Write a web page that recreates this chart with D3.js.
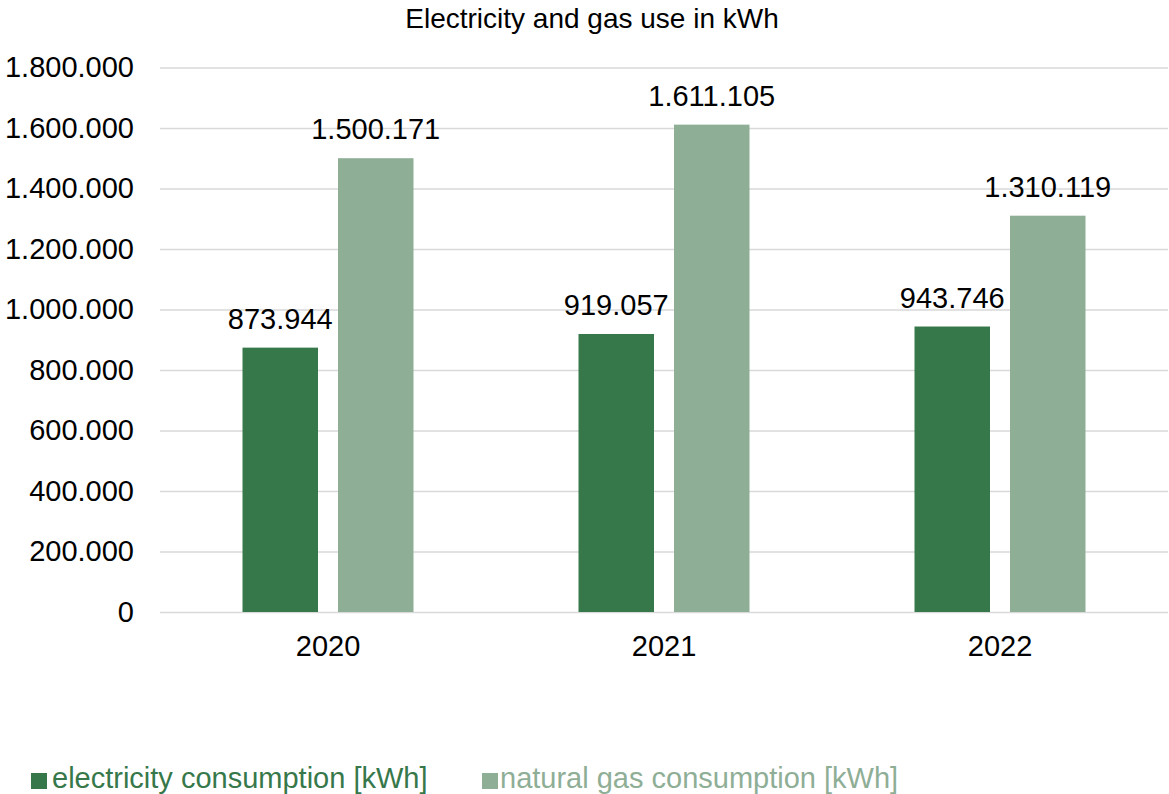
<!DOCTYPE html>
<html>
<head>
<meta charset="utf-8">
<script src="https://cdn.jsdelivr.net/npm/d3@7"></script>
<style>
  html, body { margin: 0; padding: 0; background: #fff; }
  svg { display: block; font-family: "Liberation Sans", Arial, sans-serif; }
</style>
</head>
<body>
<svg id="chart" width="1169" height="794"></svg>
<script>
// Annual consumption per energy carrier
const years = ["2020", "2021", "2022"];
const seriesNames = ["electricity consumption [kWh]", "natural gas consumption [kWh]"];
const electricity = [873944, 919057, 943746];
const naturalGas = [1500171, 1611105, 1310119];
const seriesColors = ["#37784b", "#8fae96"];
const yTicks = [0, 200000, 400000, 600000, 800000, 1000000, 1200000, 1400000, 1600000, 1800000];
const titleText = "Electricity and gas use in kWh";

const values = [electricity, naturalGas];
const rows = years.map((yr, i) => ({
  year: yr,
  items: seriesNames.map((s, k) => ({ series: s, k, value: values[k][i] }))
}));

// German-style thousands separator: 1.800.000
const fmt = d3.formatLocale({ decimal: ",", thousands: ".", grouping: [3], currency: ["", "€"] }).format(",d");

const svg = d3.select("#chart");
const plot = { left: 160, right: 1168, top: 67.5, bottom: 612 };
const labelSize = 29;

const x0 = d3.scaleBand().domain(years).range([plot.left, plot.right]).paddingInner(0).paddingOuter(0);
const x1 = d3.scaleBand().domain(seriesNames).range([0, x0.bandwidth()])
  .paddingInner(0.2094).paddingOuter(0.8639);
const y = d3.scaleLinear().domain([0, 1800000]).range([plot.bottom, plot.top]);

// Title
svg.append("text")
  .attr("x", 592).attr("y", 28)
  .attr("text-anchor", "middle")
  .attr("font-size", 28).attr("fill", "#000")
  .text(titleText);

// Horizontal gridlines and value axis labels
const yAxis = d3.axisLeft(y).tickValues(yTicks).tickFormat(fmt)
  .tickSize(-(plot.right - plot.left)).tickPadding(26);
const gy = svg.append("g").attr("transform", `translate(${plot.left},0)`).call(yAxis);
gy.select(".domain").remove();
gy.selectAll(".tick line").attr("stroke", "#d9d9d9").attr("stroke-width", 1.5);
gy.selectAll(".tick text").attr("font-size", labelSize).attr("fill", "#000")
  .attr("font-family", "Liberation Sans, Arial, sans-serif");

// Category axis labels
const xAxis = d3.axisBottom(x0).tickSize(0).tickPadding(0);
const gx = svg.append("g").attr("transform", `translate(0,${plot.bottom})`).call(xAxis);
gx.select(".domain").remove();
gx.selectAll(".tick text").attr("font-size", labelSize).attr("fill", "#000")
  .attr("dy", null).attr("y", 44)
  .attr("font-family", "Liberation Sans, Arial, sans-serif");

// Bars
const groups = svg.append("g").selectAll("g").data(rows).join("g")
  .attr("transform", d => `translate(${x0(d.year)},0)`);

groups.selectAll("rect").data(d => d.items).join("rect")
  .attr("x", d => x1(d.series))
  .attr("width", x1.bandwidth())
  .attr("y", d => y(d.value))
  .attr("height", d => y(0) - y(d.value))
  .attr("fill", d => seriesColors[d.k]);

// Value labels above bars
groups.selectAll("text.val").data(d => d.items).join("text")
  .attr("class", "val")
  .attr("x", d => x1(d.series) + x1.bandwidth() / 2)
  .attr("y", d => y(d.value) - 19)
  .attr("text-anchor", "middle")
  .attr("font-size", labelSize).attr("fill", "#000")
  .text(d => fmt(d.value));

// Legend
const legendX = [31, 482];
const legend = svg.append("g").selectAll("g").data(seriesNames).join("g")
  .attr("transform", (d, i) => `translate(${legendX[i]},0)`);
legend.append("rect")
  .attr("x", 0).attr("y", 773).attr("width", 16).attr("height", 16)
  .attr("fill", (d, i) => seriesColors[i]);
legend.append("text")
  .attr("x", (d, i) => i === 0 ? 21 : 18).attr("y", 788)
  .attr("font-size", labelSize)
  .attr("fill", (d, i) => seriesColors[i])
  .text(d => d);
</script>
</body>
</html>
